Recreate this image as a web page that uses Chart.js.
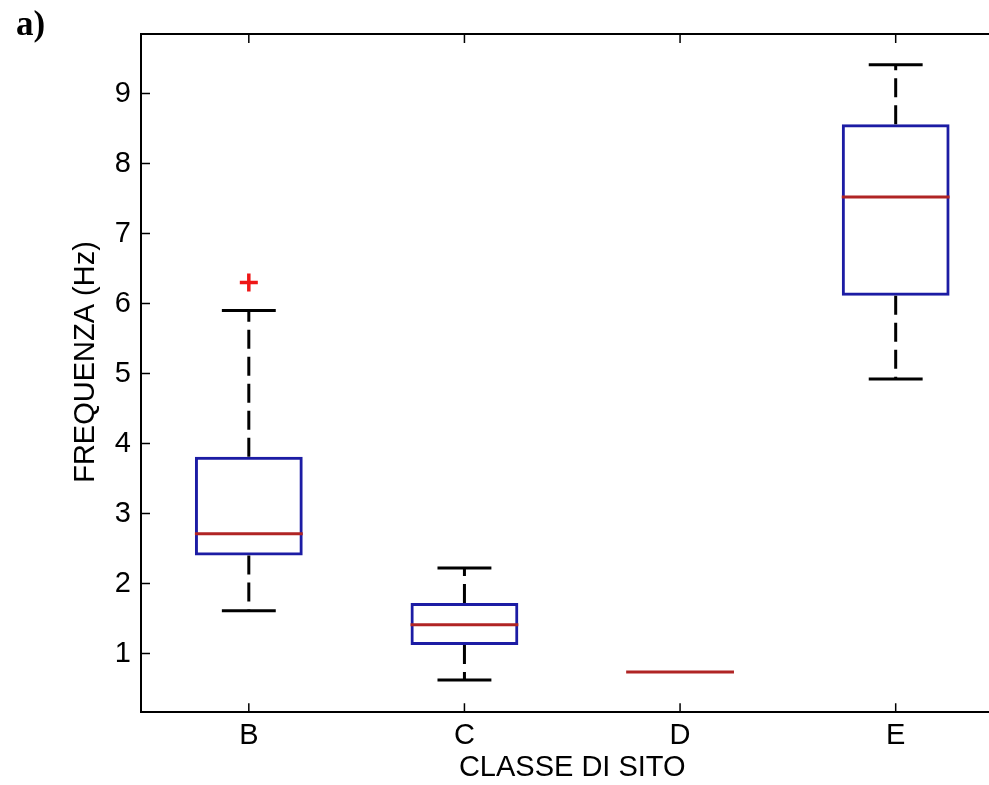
<!DOCTYPE html>
<html>
<head>
<meta charset="utf-8">
<script src="https://cdn.jsdelivr.net/npm/chart.js@4.4.1/dist/chart.umd.min.js"></script>
<style>
  html, body { margin: 0; padding: 0; background: #fff; overflow: hidden; }
  canvas { display: block; }
</style>
</head>
<body>
<canvas id="boxChart" width="1040" height="785"></canvas>
<script>
// Site classes and the box plot statistics (Hz)
const classes = ['B', 'C', 'D', 'E'];
const lowerWhisker = [1.61, 0.62, 0.735, 4.92];
const q1 = [2.40, 1.12, 0.735, 6.11];
const median = [2.71, 1.41, 0.735, 7.52];
const q3 = [3.81, 1.72, 0.735, 8.56];
const upperWhisker = [5.90, 2.22, 0.735, 9.41];
const outliers = [6.30, null, null, null];
const yTicks = [1, 2, 3, 4, 5, 6, 7, 8, 9];

const textFont = "'Liberation Sans', Arial, sans-serif";

// Draws whiskers, medians, the top frame line, inward tick marks and labels
const boxPlotLines = {
    id: 'boxPlotLines',
    afterDatasetsDraw(chart) {
        const { ctx, chartArea, scales: { x, y } } = chart;
        const step = x.getPixelForValue(1) - x.getPixelForValue(0);
        const capHalf = step * 0.125;
        const boxHalf = step * 0.25;
        ctx.save();
        ctx.lineCap = 'butt';

        classes.forEach((c, i) => {
            const cx = x.getPixelForValue(i);
            ctx.strokeStyle = '#000';
            ctx.lineWidth = 3;
            // whiskers only where they stick out of the box
            [[q3[i], upperWhisker[i]], [q1[i], lowerWhisker[i]]].forEach(([from, to]) => {
                if (from === to) return;
                const py = y.getPixelForValue(to);
                ctx.setLineDash([19, 8]);
                ctx.beginPath();
                ctx.moveTo(cx, y.getPixelForValue(from));
                ctx.lineTo(cx, py);
                ctx.stroke();
                ctx.setLineDash([]);
                ctx.beginPath();
                ctx.moveTo(cx - capHalf, py);
                ctx.lineTo(cx + capHalf, py);
                ctx.stroke();
            });
            // median
            ctx.strokeStyle = '#b02424';
            ctx.beginPath();
            const my = y.getPixelForValue(median[i]);
            ctx.moveTo(cx - boxHalf, my);
            ctx.lineTo(cx + boxHalf, my);
            ctx.stroke();
        });

        // top frame line
        ctx.strokeStyle = '#000';
        ctx.lineWidth = 2;
        ctx.beginPath();
        ctx.moveTo(chartArea.left, chartArea.top);
        ctx.lineTo(chartArea.right, chartArea.top);
        ctx.stroke();

        // inward ticks (MATLAB style)
        ctx.lineWidth = 1.5;
        ctx.beginPath();
        yTicks.forEach(v => {
            const py = y.getPixelForValue(v);
            ctx.moveTo(chartArea.left, py);
            ctx.lineTo(chartArea.left + 9, py);
        });
        classes.forEach((c, i) => {
            const px = x.getPixelForValue(i);
            ctx.moveTo(px, chartArea.bottom);
            ctx.lineTo(px, chartArea.bottom - 9);
            ctx.moveTo(px, chartArea.top);
            ctx.lineTo(px, chartArea.top + 9);
        });
        ctx.stroke();

        ctx.fillStyle = '#000';
        // y axis title, rotated
        ctx.save();
        ctx.translate(86, 362);
        ctx.rotate(-Math.PI / 2);
        ctx.font = '29px ' + textFont;
        ctx.textAlign = 'center';
        ctx.textBaseline = 'middle';
        ctx.fillText('FREQUENZA (Hz)', 0, 0);
        ctx.restore();

        // panel label
        ctx.font = "bold 35px 'Liberation Serif', 'Times New Roman', serif";
        ctx.textAlign = 'left';
        ctx.textBaseline = 'alphabetic';
        ctx.fillText('a)', 16, 35);
        ctx.restore();
    }
};

let ctx = document.getElementById('boxChart').getContext('2d');
new Chart(ctx, {
    type: 'bar',
    data: {
        labels: classes,
        datasets: [{
            label: 'Interquartile',
            data: classes.map((c, i) => [q1[i], q3[i]]),
            backgroundColor: 'rgba(0,0,0,0)',
            borderColor: '#1c1ca4',
            borderWidth: 3,
            borderSkipped: false,
            barPercentage: 0.5,
            categoryPercentage: 1.0,
            order: 2
        }, {
            type: 'line',
            label: 'Outliers',
            data: outliers,
            showLine: false,
            pointStyle: 'cross',
            pointRadius: 9,
            pointBorderWidth: 3.5,
            pointBorderColor: '#ee1616',
            pointBackgroundColor: '#ee1616',
            order: 1
        }]
    },
    options: {
        responsive: false,
        animation: false,
        layout: { padding: { left: 0, top: 34, right: 36.5, bottom: 0 } },
        plugins: {
            legend: { display: false },
            tooltip: { enabled: false }
        },
        scales: {
            x: {
                offset: true,
                grid: { display: false, drawTicks: false },
                border: { display: true, color: '#000', width: 2 },
                ticks: { color: '#000', padding: 6, font: { family: textFont, size: 29 } },
                title: {
                    display: true,
                    text: 'CLASSE DI SITO',
                    color: '#000',
                    align: 'center',
                    padding: { top: 0, bottom: 0 },
                    font: { family: textFont, size: 29 }
                },
                afterFit: scale => { scale.height = 72.7; }
            },
            y: {
                min: 0.16,
                max: 9.85,
                grid: { display: false, drawTicks: false },
                border: { display: true, color: '#000', width: 2 },
                ticks: { color: '#000', padding: 10, font: { family: textFont, size: 29 } },
                afterBuildTicks: scale => { scale.ticks = yTicks.map(v => ({ value: v })); },
                afterFit: scale => { scale.width = 141; }
            }
        }
    },
    plugins: [boxPlotLines]
});
</script>
</body>
</html>
